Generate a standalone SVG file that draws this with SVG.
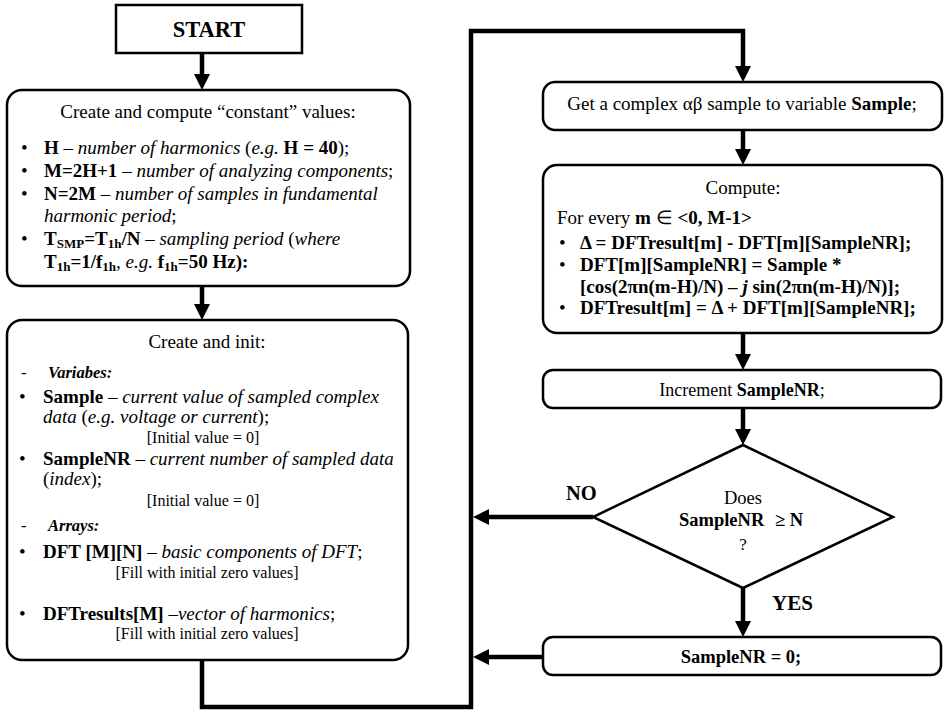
<svg xmlns="http://www.w3.org/2000/svg" width="948" height="712" viewBox="0 0 948 712">
<style>
text{font-family:"Liberation Serif","Times New Roman",serif;fill:#000;font-size:19px}
.c{text-anchor:middle}
.b{font-weight:bold}
.i{font-style:italic}
.s{font-size:16px}
.m{font-size:16.5px}
.box{fill:#fff;stroke:#000;stroke-width:2.5}
.con{fill:none;stroke:#000;stroke-width:4.5}
</style>
<defs>
<marker id="ah" viewBox="0 0 16 16" refX="6" refY="8" markerWidth="16" markerHeight="16" markerUnits="userSpaceOnUse" orient="auto">
<path d="M0,0 L16,8 L0,16 z" fill="#000"/>
</marker>
</defs>
<rect width="948" height="712" fill="#fff"/>

<g id="connectors">
<line class="con" x1="202" y1="54" x2="202" y2="80" marker-end="url(#ah)"/>
<line class="con" x1="202" y1="286" x2="202" y2="310" marker-end="url(#ah)"/>
<path class="con" d="M202,660 V707 H471 V31 H743 V72" marker-end="url(#ah)"/>
<line class="con" x1="743" y1="130" x2="743" y2="155" marker-end="url(#ah)"/>
<line class="con" x1="743" y1="333" x2="743" y2="360" marker-end="url(#ah)"/>
<line class="con" x1="743" y1="408" x2="743" y2="435" marker-end="url(#ah)"/>
<line class="con" x1="743" y1="588" x2="743" y2="627" marker-end="url(#ah)"/>
<line class="con" x1="593" y1="517" x2="483" y2="517" marker-end="url(#ah)"/>
<line class="con" x1="543" y1="657" x2="483" y2="657" marker-end="url(#ah)"/>
<text class="b" x="566" y="500" style="font-size:20.5px">NO</text>
<text class="b" x="772" y="610" style="font-size:21px">YES</text>
</g>

<g id="start">
<rect class="box" x="116" y="5" width="186" height="48"/>
<text class="c b" x="209" y="37" style="font-size:22.5px">START</text>
</g>

<g id="constants">
<rect class="box" x="7" y="90" width="403" height="196" rx="15"/>
<text class="c" x="208" y="118">Create and compute “constant” values:</text>
<text x="21" y="154">•</text>
<text x="44" y="154"><tspan class="b">H</tspan> – <tspan class="i">number of harmonics</tspan> (<tspan class="i">e.g.</tspan> <tspan class="b">H = 40</tspan>);</text>
<text x="21" y="177">•</text>
<text x="44" y="177"><tspan class="b">M=2H+1</tspan> – <tspan class="i">number of analyzing components</tspan>;</text>
<text x="21" y="200">•</text>
<text x="44" y="200"><tspan class="b">N=2M</tspan> – <tspan class="i">number of samples in fundamental</tspan></text>
<text x="44" y="222"><tspan class="i">harmonic period</tspan>;</text>
<text x="21" y="245">•</text>
<text x="44" y="245"><tspan class="b">T<tspan font-size="13" dy="3">SMP</tspan><tspan dy="-3">=T</tspan><tspan font-size="13" dy="3">1h</tspan><tspan dy="-3">/N</tspan></tspan> – <tspan class="i">sampling period</tspan> (<tspan class="i">where</tspan></text>
<text x="44" y="268"><tspan class="b">T<tspan font-size="13" dy="3">1h</tspan><tspan dy="-3">=1/f</tspan><tspan font-size="13" dy="3">1h</tspan></tspan><tspan dy="-3">, </tspan><tspan class="i">e.g.</tspan> <tspan class="b">f<tspan font-size="13" dy="3">1h</tspan><tspan dy="-3">=50 Hz):</tspan></tspan></text>
</g>

<g id="init">
<rect class="box" x="7" y="320" width="401" height="340" rx="15"/>
<text class="c" x="207" y="348">Create and init:</text>
<text x="21" y="378" class="m">-</text>
<text x="48" y="378" class="b i m">Variabes:</text>
<text x="19" y="403">•</text>
<text x="43" y="403"><tspan class="b">Sample</tspan> – <tspan class="i">current value of sampled complex</tspan></text>
<text x="43" y="423"><tspan class="i">data</tspan> (<tspan class="i">e.g. voltage or current</tspan>);</text>
<text class="c s" x="203" y="443">[Initial value = 0]</text>
<text x="19" y="465">•</text>
<text x="43" y="465"><tspan class="b">SampleNR</tspan> – <tspan class="i">current number of sampled data</tspan></text>
<text x="43" y="485">(<tspan class="i">index</tspan>);</text>
<text class="c s" x="203" y="506">[Initial value = 0]</text>
<text x="21" y="531" class="m">-</text>
<text x="48" y="531" class="b i m">Arrays:</text>
<text x="19" y="558">•</text>
<text x="43" y="558"><tspan class="b">DFT [M][N]</tspan> – <tspan class="i">basic components of DFT</tspan>;</text>
<text class="c s" x="207" y="578">[Fill with initial zero values]</text>
<text x="19" y="620">•</text>
<text x="43" y="620"><tspan class="b">DFTresults[M]</tspan> –<tspan class="i">vector of harmonics</tspan>;</text>
<text class="c s" x="207" y="639">[Fill with initial zero values]</text>
</g>

<g id="get-sample">
<rect class="box" x="543" y="82" width="399" height="48" rx="12"/>
<text class="c" x="742" y="110">Get a complex αβ sample to variable <tspan class="b">Sample</tspan>;</text>
</g>

<g id="compute">
<rect class="box" x="543" y="165" width="399" height="168" rx="14"/>
<text class="c" x="743" y="194">Compute:</text>
<text x="557" y="224">For every <tspan class="b">m</tspan> ∈ <tspan class="b">&lt;0, M-1&gt;</tspan></text>
<text x="559" y="249">•</text>
<text x="580" y="249" class="b">Δ = DFTresult[m] - DFT[m][SampleNR];</text>
<text x="559" y="271">•</text>
<text x="580" y="271" class="b">DFT[m][SampleNR] = Sample *</text>
<text x="580" y="293" class="b">[cos(2πn(m-H)/N) – <tspan class="i">j</tspan> sin(2πn(m-H)/N)];</text>
<text x="559" y="314">•</text>
<text x="580" y="314" class="b">DFTresult[m] = Δ + DFT[m][SampleNR];</text>
</g>

<g id="increment">
<rect class="box" x="543" y="370" width="398" height="38" rx="10"/>
<text class="c" x="742" y="396" style="font-size:18px">Increment <tspan class="b">SampleNR</tspan>;</text>
</g>

<g id="decision">
<polygon class="box" points="743,445 893,517 743,588 593,517"/>
<text class="c" x="743" y="504" style="font-size:18.5px">Does</text>
<text class="c b" x="741" y="526" style="font-size:18.5px">SampleNR <tspan dx="6">≥ N</tspan></text>
<text class="c" x="743" y="550" style="font-size:17px">?</text>
</g>

<g id="reset">
<rect class="box" x="543" y="637" width="398" height="38" rx="10"/>
<text class="c b" x="741" y="663" style="font-size:18.5px">SampleNR = 0;</text>
</g>
</svg>
